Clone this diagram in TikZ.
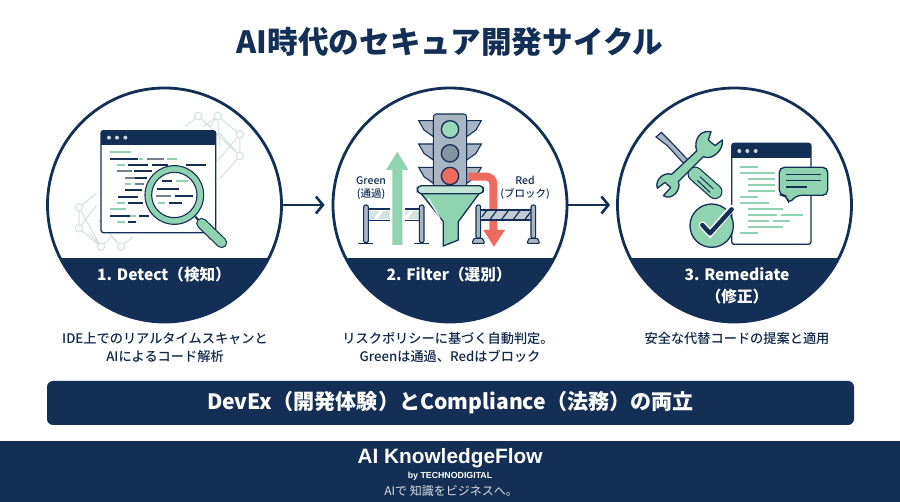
\documentclass[tikz,border=0pt]{standalone}
\usepackage{fontspec}
\setmainfont{Noto Sans CJK JP}
\newfontfamily\medfont{Noto Sans CJK JP Medium}
\newfontfamily\footfont{Liberation Sans}
\usetikzlibrary{arrows.meta,positioning}

\definecolor{navy}{HTML}{132F55}
\definecolor{mint}{HTML}{8FD3B1}
\definecolor{coral}{HTML}{EC6A5E}
\definecolor{steel}{HTML}{A9B5C2}
\definecolor{faint}{HTML}{D3E3DD}
\definecolor{codegray}{HTML}{71808F}

\tikzset{
  stepring/.style={circle,draw=navy,line width=2.8pt,minimum size=234pt,inner sep=0pt},
  flowarrow/.style={draw=navy,line width=2.6pt,-{Straight Barb[length=7pt,width=17pt,line width=2.6pt]}},
  bandlabel/.style={text=white,font=\fontsize{15.6}{22}\selectfont\bfseries,align=center,inner sep=0pt},
  desclabel/.style={text=navy!85!black,font=\medfont\fontsize{13.2}{18.5}\selectfont,align=center,inner sep=0pt},
  signlabel/.style={text=navy,font=\medfont\fontsize{10.5}{13.5}\selectfont,align=center,inner sep=0pt},
  wincode/.style={line width=1.7pt},
  windowbox/.style={draw=navy,line width=1.3pt,fill=white,rounded corners=2.5pt},
  icon/.style={draw=navy,line width=1.1pt}
}

\begin{document}
\begin{tikzpicture}[x=1pt,y=-1pt]
    \useasboundingbox (0,0) rectangle (900,502);
    \fill[white] (0,0) rectangle (900,502);

    % title
    \node[text=navy,font=\fontsize{30.6}{36}\selectfont\bfseries,inner sep=0pt] (title) at (450,42) {AI時代のセキュア開発サイクル};

    % bands of the three circles
    \begin{scope}
        \clip (164.5,205) circle (117);
        \fill[navy] (40,258) rectangle (290,330);
    \end{scope}
    \begin{scope}
        \clip (450,205) circle (117);
        \fill[navy] (325,258) rectangle (575,330);
    \end{scope}
    \begin{scope}
        \clip (734.5,205) circle (117);
        \fill[navy] (610,258) rectangle (860,330);
    \end{scope}
    \node[stepring] (detect) at (164.5,205) {};
    \node[stepring] (filter) at (450,205) {};
    \node[stepring] (remedy) at (734.5,205) {};
    \draw[flowarrow,shorten >=7pt] (detect) -- (filter);
    \draw[flowarrow,shorten >=6pt] (filter) -- (remedy);

    \node[bandlabel] (detectlabel) at (164,275) {1. Detect（検知）};
    \node[bandlabel] (filterlabel) at (449,275) {2. Filter（選別）};
    \node[bandlabel] (remedylabel) at (737,286) {3. Remediate\\（修正）};

    % icon 1: code window and lens
    \begin{scope}[shift={(40,90)},scale=1/3]
        \draw[faint,line width=1pt] (435,110) -- (475,78) -- (510,110) -- (533,78) -- (600,133) -- (600,198) -- (540,265)
            (475,78) -- (600,198) (533,78) -- (540,170) (600,133) -- (530,215) (490,110) -- (533,78) (540,130) -- (600,198);
        \draw[faint,line width=1pt,fill=white] (475,78) circle (11) (533,78) circle (11) (600,133) circle (11) (600,198) circle (11);
        \draw[faint,line width=1pt] (170,310) -- (117,352) -- (117,415) -- (183,470) -- (215,440) -- (243,470) -- (280,440)
            (117,352) -- (183,470) (170,345) -- (117,415) (175,390) -- (243,470) (183,470) -- (150,430);
        \draw[faint,line width=1pt,fill=white] (117,352) circle (11) (117,415) circle (11) (183,470) circle (11) (243,470) circle (11);
        \draw[windowbox] (183,122) rectangle (527,428);
        \fill[navy,rounded corners=2.5pt] (183,122) rectangle (527,165);
        \fill[navy] (183,150) rectangle (527,165);
        \fill[steel!60!white] (207,143) circle (6) (231,143) circle (6) (256,143) circle (6);
        \draw[wincode,mint] (210,187) -- (272,187) (297,207) -- (310,207) (382,207) -- (410,207) (232,226) -- (255,226)
            (255,282) -- (272,282) (232,339) -- (255,339) (210,358) -- (258,358) (270,377) -- (288,377) (232,396) -- (255,396) (408,362) -- (440,362);
        \draw[wincode,codegray] (320,207) -- (372,207) (232,244) -- (275,244) (255,264) -- (285,264) (285,282) -- (312,282);
        \draw[wincode,navy] (210,207) -- (295,207) (265,226) -- (325,226) (337,226) -- (385,226) (437,226) -- (497,226)
            (283,244) -- (337,244) (285,264) -- (320,264) (255,300) -- (305,300) (233,320) -- (293,320) (265,339) -- (308,339)
            (210,377) -- (270,377) (297,377) -- (328,377) (265,396) -- (287,396);
        \draw[navy,line width=2pt] (466,380) -- (482,397);
        \draw[navy,line width=11pt,line cap=round] (485,400) -- (545,458);
        \draw[mint,line width=8.6pt,line cap=round] (485,400) -- (545,458);
        \draw[icon,fill=mint] (403,315) circle (88);
        \draw[icon,fill=white] (403,315) circle (68);
        \draw[wincode,navy] (365,274) -- (397,274) (352,296) -- (418,296) (405,318) -- (460,318) (387,340) -- (425,340);
        \draw[wincode,mint] (408,274) -- (443,274) (355,340) -- (375,340);
        \draw[wincode,codegray] (347,318) -- (393,318);
    \end{scope}

    % icon 2: signal, funnel, barriers
    \begin{scope}[shift={(320,90)},scale=1/3]
        % left barrier
        \fill[steel!45!mint!45!white] (145,362) rectangle (300,388);
        \draw[navy,line width=1.2pt] (145,357) -- (300,357) (145,391) -- (300,391);
        \draw[white,line width=3pt] (165,388) -- (185,362) (255,388) -- (275,362);
        \draw[icon,fill=steel,rounded corners=2pt] (131,345) rectangle (145,458);
        \draw[icon,fill=steel,rounded corners=2pt] (298,345) rectangle (312,458);
        \draw[navy,line width=1.5pt] (115,461) -- (160,461) (282,461) -- (328,461);
        \fill[white] (210,350) rectangle (255,398);
        % green arrow
        \fill[mint] (217,465) -- (217,240) -- (198,240) -- (232,185) -- (265,240) -- (247,240) -- (247,465) -- cycle;
        % signal
        \foreach \vy in {92,162,232}{
            \draw[icon,fill=steel] (340,\vy) -- (296,\vy) -- (312,\vy+28) -- (340,\vy+48) -- cycle;
            \draw[icon,fill=steel] (440,\vy) -- (484,\vy) -- (468,\vy+28) -- (440,\vy+48) -- cycle;
        }
        \draw[icon,fill=steel,rounded corners=3pt] (340,72) rectangle (440,295);
        \draw[icon,line width=1.3pt,fill=mint!90!white] (390,118) circle (26);
        \draw[icon,line width=1.3pt,fill=codegray!85!white] (390,190) circle (26);
        % red arrow
        \draw[coral,line width=8pt,rounded corners=7pt] (445,260) -- (520,260) -- (520,425);
        \fill[coral] (490,420) -- (555,420) -- (522,470) -- cycle;
        \draw[icon,line width=1.3pt,fill=coral] (390,258) circle (26);
        % right barrier
        \fill[steel!70!white] (485,362) rectangle (632,388);
        \draw[navy,line width=1.2pt] (510,388) -- (530,362) (545,388) -- (565,362) (580,388) -- (600,362) (615,388) -- (632,366) (485,381) -- (500,362);
        \draw[navy,line width=1.4pt] (483,360) -- (634,360) (483,390) -- (634,390);
        \draw[icon,fill=steel,rounded corners=2pt] (468,345) rectangle (482,445);
        \draw[icon,fill=steel,rounded corners=2pt] (633,345) rectangle (647,445);
        \draw[icon,fill=steel,rounded corners=1pt] (462,445) -- (488,445) -- (494,460) -- (456,460) -- cycle;
        \draw[icon,fill=steel,rounded corners=1pt] (627,445) -- (653,445) -- (659,460) -- (621,460) -- cycle;
        % funnel
        \draw[icon,line width=1.3pt,fill=mint] (303,310) -- (478,310) -- (415,395) -- (415,450) -- (370,468) -- (370,395) -- cycle;
        \draw[white,line width=1.4pt,opacity=.8] (325,325) -- (360,385);
        \draw[icon,line width=1.3pt,fill=mint!55!white,rounded corners=4pt] (292,287) rectangle (490,311);
    \end{scope}
    \node[signlabel] (greenlabel) at (371,188) {Green\\(通過)};
    \node[signlabel] (redlabel) at (525,188) {Red\\(ブロック)};

    % icon 3: tools, window, check
    \begin{scope}[shift={(600,90)},scale=1/3]
        \draw[windowbox] (395,160) rectangle (633,463);
        \fill[navy,rounded corners=2.5pt] (395,160) rectangle (633,200);
        \fill[navy] (395,190) rectangle (633,205);
        \fill[steel!60!white] (418,183) circle (6) (442,183) circle (6) (467,183) circle (6);
        \draw[wincode,mint] (420,230) -- (473,230) (420,248) -- (525,248) (443,266) -- (525,266) (443,284) -- (525,284)
            (443,302) -- (525,302) (420,321) -- (473,321) (420,339) -- (507,339) (443,357) -- (548,357) (443,375) -- (530,375)
            (542,375) -- (608,375) (443,393) -- (507,393) (518,393) -- (570,393) (443,411) -- (548,411) (420,430) -- (473,430);
        \draw[icon,line width=1.3pt,fill=mint,rounded corners=5pt] (538,232) -- (683,232) -- (683,316) -- (590,316) -- (565,342) -- (560,316) -- (538,316) -- cycle;
        \draw[navy,line width=1.5pt] (558,253) -- (663,253) (558,272) -- (663,272) (558,291) -- (622,291);
        \draw[icon,line width=1.3pt,fill=mint] (335,407) circle (65);
        \draw[white,line width=7pt,line cap=round] (307,405) -- (330,430) -- (395,355);
        \draw[navy,line width=4.4pt,line cap=round,line join=round] (307,405) -- (330,430) -- (395,358);
    \end{scope}
    \begin{scope}[shift={(650,125)},scale=1/3]
        % screwdriver
        \draw[icon,fill=steel] (18,36) -- (34,22) -- (62,50) -- (130,122) -- (118,134) -- (52,62) -- cycle;
        \draw[navy,line width=15pt,line cap=round] (135,147) -- (195,200);
        \draw[mint,line width=12.6pt,line cap=round] (135,147) -- (195,200);
        \draw[navy,line width=1pt] (150,155) -- (190,192) (142,166) -- (180,202);
        % wrench
        \draw[icon,line width=1.3pt,fill=mint,line join=round] (183,20) .. controls (150,14) and (130,45) .. (140,78) -- (65,148)
            .. controls (40,140) and (14,165) .. (22,190) -- (45,172) -- (62,188) -- (40,212)
            .. controls (65,228) and (95,195) .. (85,170) -- (160,95)
            .. controls (185,108) and (222,75) .. (217,45) -- (195,62) -- (175,45) -- cycle;
    \end{scope}

    % captions
    \node[desclabel] (detectdesc) at (165,347.5) {IDE上でのリアルタイムスキャンと\\AIによるコード解析};
    \node[desclabel] (filterdesc) at (448,347.5) {リスクポリシーに基づく自動判定。\\\hspace*{4pt}Greenは通過、Redはブロック};
    \node[desclabel] (remedydesc) at (737,339) {安全な代替コードの提案と適用};

    % banner
    \node[fill=navy,rounded corners=6pt,minimum width=807pt,minimum height=44pt,inner sep=0pt,text=white,font=\fontsize{21.1}{26}\selectfont\bfseries] (banner) at (450.5,403) {DevEx（開発体験）とCompliance（法務）の両立};

    % footer
    \fill[navy] (0,441) rectangle (900,502);
    \node[text=white,font=\footfont\fontsize{20.8}{24}\selectfont\bfseries,inner sep=0pt] (brand) at (450,458) {AI KnowledgeFlow};
    \node[text=white,font=\footfont\fontsize{8.8}{10}\selectfont\bfseries,inner sep=0pt] (byline) at (450,476) {by TECHNODIGITAL};
    \node[text=white!85!navy,font=\fontsize{12}{14}\selectfont,inner sep=0pt] (slogan) at (451,491) {AIで 知識をビジネスへ。};
\end{tikzpicture}
\end{document}
